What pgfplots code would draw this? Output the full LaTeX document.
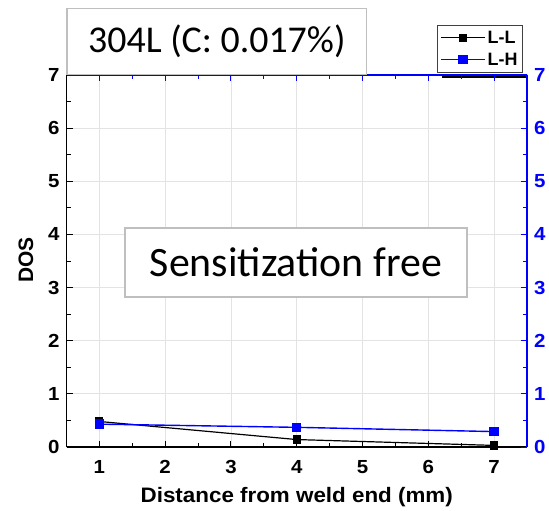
\documentclass[border=0pt]{standalone}
\usepackage{fontspec}
\setmainfont{Liberation Sans}
\newfontfamily\carlito{Carlito}
\usepackage{pgfplots}
\pgfplotsset{compat=1.18}
\definecolor{origblue}{RGB}{0,0,255}

\begin{document}
\begin{tikzpicture}
\pgfplotsset{
  dosbase/.style={
    scale only axis, width=460.5bp, height=372bp,
    at={(0,0)}, anchor=south west,
    xmin=0.5, xmax=7.5, ymin=0, ymax=7,
    xtick={1,...,7}, ytick={0,...,7},
    minor x tick num=1, minor y tick num=1,
    tick align=inside,
    major tick length=6bp, minor tick length=4bp,
    tick label style={font=\fontsize{19}{21}\selectfont\bfseries, xscale=1.08},
    /pgf/number format/assume math mode=true,
    xticklabel style={anchor=center, yshift=-20bp},
  },
  ll/.style={black, line width=1.2bp, mark=square*, mark size=3.5bp, mark options={solid}},
  lh/.style={origblue, line width=1.4bp, mark=square*, mark size=4bp, mark options={solid}},
}
% left axis (black), grid and L-L
\begin{axis}[dosbase,
  axis x line*=bottom, axis y line*=left,
  axis line style={line width=1.2bp, -},
  tick style={black, line width=1bp},
  grid=major, major grid style={gray!22, line width=0.8bp},
  xlabel={Distance from weld end (mm)}, ylabel={DOS},
  label style={font=\fontsize{21}{24}\selectfont\bfseries},
  xlabel style={at={(axis description cs:0.5,-0.134)}, anchor=center, xscale=1.07},
  ylabel style={at={(axis description cs:-0.088,0.503)}, anchor=center},
  yticklabel style={xshift=-3bp},
]
\addplot[ll] coordinates {(1,0.48) (4,0.14) (7,0.03)};
% legend shadow, drawn here so that the legend of the second axis lies over it
\node[fill=black, inner sep=0, minimum width=86bp, minimum height=52bp,
  anchor=south east] at (rel axis cs:1.0022,0.9919) {};
\end{axis}
% right axis (blue), L-H, legend and text boxes
\begin{axis}[dosbase,
  clip=false,
  axis x line*=top, axis y line*=right,
  axis line style={origblue, line width=1.2bp, -},
  tick style={origblue, line width=1bp},
  xticklabels={},
  yticklabel style={text=origblue, xshift=3bp},
  legend style={at={(rel axis cs:0.9913,1.0054)}, anchor=south east,
    draw=black!75, line width=0.8bp, fill=white,
    nodes={inner ysep=4bp},
    font=\fontsize{18}{20}\selectfont\bfseries},
  legend image code/.code={
    \draw[mark repeat=2,mark phase=2] plot coordinates {(0bp,0bp) (22bp,0bp) (44bp,0bp)};},
  legend cell align=left,
]
\addlegendimage{ll}
\addlegendentry{L-L}
\addplot[lh] coordinates {(1,0.43) (4,0.37) (7,0.29)};
\addlegendentry{L-H}
\node[draw=gray!50, line width=1.2bp, fill=white, minimum width=299.5bp,
  minimum height=66bp, anchor=south west, inner sep=0,
  font=\carlito\fontsize{38}{40}\selectfont] at (rel axis cs:0,1) {304L (C: 0.017\%)};
\node[draw=gray!50, line width=1.4bp, fill=white, minimum width=342bp,
  minimum height=69bp, inner sep=0,
  font=\carlito\fontsize{42}{44}\selectfont] at (rel axis cs:0.498,0.496) {Sensitization free};
\end{axis}
\pgfresetboundingbox
\useasboundingbox (-66.5bp,-64bp) rectangle (482.5bp,447bp);
\end{tikzpicture}
\end{document}
